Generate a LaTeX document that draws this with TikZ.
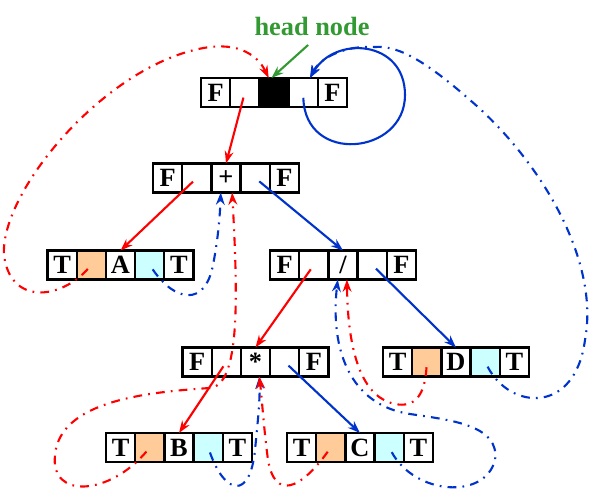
\documentclass[tikz,border=0pt]{standalone}
\usepackage{fontspec}
\setmainfont{Liberation Serif}
\usetikzlibrary{positioning,arrows.meta}
\definecolor{peach}{RGB}{255,204,153}
\definecolor{aqua}{RGB}{204,255,255}
\definecolor{ptrred}{RGB}{255,0,0}
\definecolor{ptrblue}{RGB}{0,51,204}
\definecolor{lblgreen}{RGB}{51,153,51}

\begin{document}
\begin{tikzpicture}[x=0.02cm,y=-0.02cm,
    cell/.style={draw,line width=1.3pt,minimum width=0.584cm,minimum height=0.58cm,
      inner sep=0pt,outer sep=0pt,font=\fontsize{15}{15}\selectfont\bfseries},
    link/.style={line width=1.2pt,-{Stealth[length=7pt,width=5pt]},shorten <=3pt},
    thread/.style={link,dash pattern=on 5pt off 3.5pt on 1pt off 3.5pt}]
  \useasboundingbox (0,0) rectangle (599,499);
  \foreach \n/\cx/\cy/\ta/\tc/\te/\fb/\fc/\fd in {
      hd/274/92.5/F/{}/F/white/black/white,
      plus/226/178/F/+/F/white/white/white,
      a/120.5/265/T/A/T/peach/white/aqua,
      slash/343/265/F/{/}/F/white/white/white,
      star/255.5/362/F/*/F/white/white/white,
      d/456/362/T/D/T/peach/white/aqua,
      b/179/447.5/T/B/T/peach/white/aqua,
      c/360/447.5/T/C/T/peach/white/aqua}
  {
    \node[cell,fill=\fc] (\n-3) at (\cx,\cy) {\tc};
    \node[cell,fill=\fb,left=0pt of \n-3] (\n-2) {};
    \node[cell,left=0pt of \n-2] (\n-1) {\ta};
    \node[cell,fill=\fd,right=0pt of \n-3] (\n-4) {};
    \node[cell,right=0pt of \n-4] (\n-5) {\te};
  }
  \node[font=\fontsize{15}{15}\selectfont\bfseries,text=lblgreen] (lbl) at (312,26) {head node};
  \draw[link,lblgreen] (lbl.south) -- (hd-3.100);

  \draw[link,ptrred]  (hd-2.center)    -- (plus-3.north);
  \draw[link,ptrred]  (plus-2.center)  -- (a-3.north);
  \draw[link,ptrblue] (plus-4.center)  -- (slash-3.north);
  \draw[link,ptrred]  (slash-2.center) -- (star-3.north);
  \draw[link,ptrblue] (slash-4.center) -- (d-3.north);
  \draw[link,ptrred]  (star-2.center)  -- (b-3.north);
  \draw[link,ptrblue] (star-4.center)  -- (c-3.north);
  \draw[link,ptrblue] (hd-4.center) .. controls (305,165) and (405,155) .. (405,95)
    .. controls (405,40) and (335,35) .. (hd-4.65);

  \draw[thread,ptrred] (a-2.center) .. controls (60,300) and (10,305) .. (4,255)
    .. controls (0,190) and (110,60) .. (210,47)
    .. controls (245,43) and (260,60) .. (hd-3.110);
  \draw[thread,ptrblue] (a-4.center) .. controls (175,302) and (205,307) .. (213,265)
    .. controls (218,240) and (220,215) .. (plus-3.-110);
  \draw[thread,ptrred] (b-2.center) .. controls (110,495) and (50,500) .. (55,455)
    .. controls (60,400) and (150,392) .. (210,388)
    .. controls (240,385) and (238,300) .. (plus-3.-67);
  \draw[thread,ptrblue] (b-4.center) .. controls (225,495) and (250,500) .. (255,450)
    .. controls (258,420) and (260,400) .. (star-3.-75);
  \draw[thread,ptrred] (c-2.center) .. controls (300,490) and (275,500) .. (268,460)
    .. controls (264,430) and (262,400) .. (star-3.-75);
  \draw[thread,ptrblue] (c-4.center) .. controls (415,495) and (485,500) .. (495,460)
    .. controls (500,425) and (450,420) .. (410,414)
    .. controls (350,405) and (330,350) .. (slash-3.-110);
  \draw[thread,ptrred] (d-2.center) .. controls (425,395) and (415,408) .. (395,404)
    .. controls (365,398) and (348,360) .. (slash-3.-75);
  \draw[thread,ptrblue] (d-4.center) .. controls (510,410) and (575,415) .. (585,340)
    .. controls (600,260) and (540,160) .. (470,100)
    .. controls (430,65) and (400,45) .. (375,47)
    .. controls (345,45) and (320,58) .. (hd-4.65);
\end{tikzpicture}
\end{document}
